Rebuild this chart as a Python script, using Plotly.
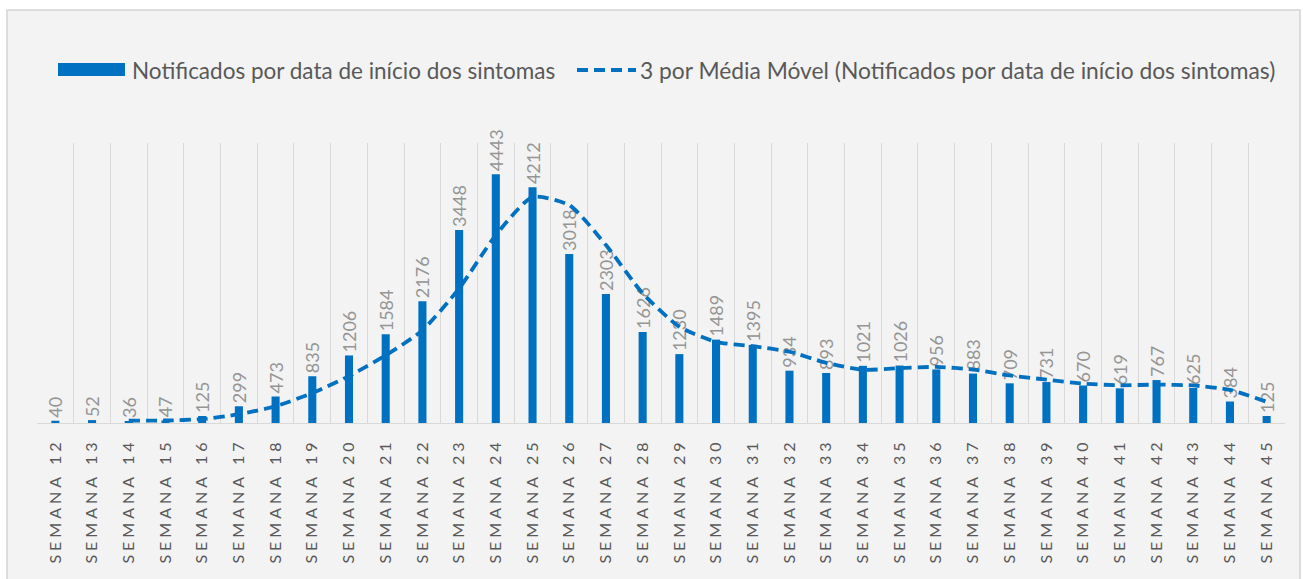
import plotly.graph_objects as go

weeks = list(range(12, 46))
categories = [f"SEMANA {w}" for w in weeks]
notificados = [40, 52, 36, 47, 125, 299, 473, 835, 1206, 1584, 2176, 3448, 4443, 4212,
               3018, 2303, 1626, 1230, 1489, 1395, 934, 893, 1021, 1026, 956, 883,
               709, 731, 670, 619, 767, 625, 384, 125]
# 3-period moving average (starts at week 14)
ma_categories = categories[2:]
media_movel = [42.7, 45.0, 69.3, 157.0, 299.0, 535.7, 838.0, 1208.3, 1655.3, 2402.7,
               3355.7, 4034.3, 3891.0, 3177.7, 2315.7, 1719.7, 1448.3, 1371.3, 1272.7,
               1074.0, 949.3, 980.0, 1001.0, 955.0, 849.3, 774.3, 703.3, 673.3, 685.3,
               670.3, 592.0, 378.0]
legend_bar = "Notificados por data de início dos sintomas"
legend_line = "3 por Média Móvel (Notificados por data de início dos sintomas)"

BLUE = "#0070C0"
FONT = "Lato"
SP = "\u2005"

def spaced(label):
    word, num = label.split(" ")
    return SP.join(word) + "\u2002" + SP + SP.join(num)

fig = go.Figure()
fig.add_trace(go.Bar(
    x=categories, y=notificados, name=legend_bar,
    marker=dict(color=BLUE, line=dict(width=0)), width=0.22,
    text=[str(v) for v in notificados], textposition="outside", textangle=-90,
    constraintext="none", cliponaxis=False,
    textfont=dict(family=FONT, size=18, color="#959595"),
    showlegend=False,
))
fig.add_trace(go.Scatter(
    x=ma_categories, y=media_movel, name=legend_line, mode="lines",
    line=dict(color=BLUE, width=3.8, dash="11px,6px", shape="spline", smoothing=0.6),
    showlegend=False,
))

PL, PT, PW, PH = 37, 143, 1248, 280

def px_x(p):
    return (p - PL) / PW

def px_y(p):
    return (PT + PH - p) / PH

# outer chart frame
fig.add_shape(type="rect", xref="paper", yref="paper", layer="below",
              x0=px_x(7), x1=px_x(1300), y0=px_y(590), y1=px_y(10),
              fillcolor="#f3f3f3", line=dict(color="#d4d4d4", width=1.5))

# manual legend
fig.add_shape(type="rect", xref="paper", yref="paper",
              x0=px_x(58), x1=px_x(125), y0=px_y(76), y1=px_y(63),
              fillcolor=BLUE, line=dict(width=0))
fig.add_annotation(xref="paper", yref="paper", x=px_x(130), y=px_y(70),
                   xanchor="left", yanchor="middle", showarrow=False,
                   text=legend_bar, font=dict(family=FONT, size=22.5, color="#595959"))
fig.add_shape(type="line", xref="paper", yref="paper",
              x0=px_x(577), x1=px_x(636), y0=px_y(70), y1=px_y(70),
              line=dict(color=BLUE, width=3.8, dash="11px,6px"))
fig.add_annotation(xref="paper", yref="paper", x=px_x(638), y=px_y(70),
                   xanchor="left", yanchor="middle", showarrow=False,
                   text=legend_line, font=dict(family=FONT, size=22.8, color="#595959"))

fig.update_layout(
    width=1303, height=579,
    margin=dict(l=PL, r=1303 - PL - PW, t=PT, b=579 - PT - PH, autoexpand=False),
    paper_bgcolor="white", plot_bgcolor="rgba(0,0,0,0)",
    font=dict(family=FONT),
)
fig.update_xaxes(
    type="category", tickson="boundaries", showgrid=True, gridcolor="#d9d9d9",
    gridwidth=1, showline=True, linecolor="#d9d9d9", ticks="", automargin=False,
    tickvals=categories, ticktext=[spaced(c) for c in categories],
    tickangle=-90, tickfont=dict(family=FONT, size=16, color="#595959"),
    ticklabelstandoff=12,
)
fig.update_yaxes(range=[0, 5000], visible=False, showgrid=False)

fig.write_html("out.html", config={"displayModeBar": False},
               post_script="document.body.style.margin='0';document.body.style.overflow='hidden';")
